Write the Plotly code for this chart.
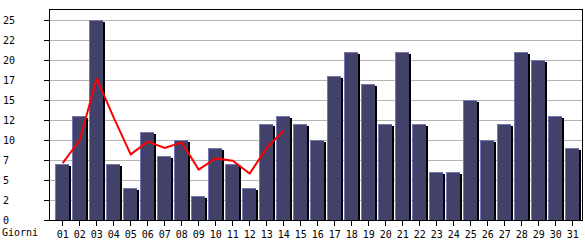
import plotly.graph_objects as go

days = list(range(1, 32))
day_labels = [f"{d:02d}" for d in days]
visits = [7, 13, 25, 7, 4, 11, 8, 10, 3, 9, 7, 4, 12, 13, 12, 10, 18, 21, 17, 12,
          21, 12, 6, 6, 15, 10, 12, 21, 20, 13, 9]
avg_days = list(range(1, 15))
avg_values = [7.1, 10.0, 17.7, 12.8, 8.2, 9.8, 9.0, 9.7, 6.3, 7.7, 7.4, 5.8, 9.0, 11.2]
y_tickvals = [0, 2.5, 5, 7.5, 10, 12.5, 15, 17.5, 20, 22.5, 25]
y_ticktext = ["0", "2", "5", "7", "10", "12", "15", "17", "20", "22", "25"]

FONT = "DejaVu Sans Mono"
U = 17.0  # px per category

fig = go.Figure()
# shadow
fig.add_trace(go.Bar(x=days, y=[v - 0.25 for v in visits], width=14 / U, offset=-6 / U,
                     marker=dict(color="#000000", line=dict(width=0)), hoverinfo="skip"))
# highlight
fig.add_trace(go.Bar(x=days, y=visits, width=14 / U, offset=-8 / U,
                     marker=dict(color="#7676b4", line=dict(width=0))))
# fill
fig.add_trace(go.Bar(x=days, y=[v - 0.125 for v in visits], width=13 / U, offset=-7 / U,
                     marker=dict(color="#41416a", line=dict(width=0)), hoverinfo="skip"))
# average line
fig.add_trace(go.Scatter(x=avg_days, y=avg_values, mode="lines",
                         line=dict(color="#ff0000", width=2)))

# left-align y tick labels by padding them to equal width in a monospace font
y_ticktext_padded = [t.ljust(2, "\u00a0") for t in y_ticktext]

fig.update_layout(
    width=585, height=240,
    margin=dict(l=50, r=3, t=10, b=20),
    barmode="overlay", bargap=0,
    showlegend=False,
    plot_bgcolor="white", paper_bgcolor="white",
    font=dict(family=FONT, size=10, color="black"),
    xaxis=dict(range=[1 - 12.7 / U, 31 + 9.3 / U], tickvals=days, ticktext=day_labels,
               showgrid=False, showline=True, linecolor="black", linewidth=1, mirror=True,
               ticks="outside", ticklen=5, tickcolor="black", zeroline=False,
               automargin=False),
    yaxis=dict(range=[0, 26.25], tickvals=y_tickvals, ticktext=y_ticktext_padded,
               showgrid=True, gridcolor="#b4b4b4", gridwidth=1,
               showline=True, linecolor="black", linewidth=1, mirror=True,
               ticks="outside", ticklen=5, tickcolor="black", zeroline=False,
               ticklabelstandoff=27, automargin=False),
    annotations=[dict(text="Giorni", xref="paper", yref="paper", x=-50 / 532, y=-12 / 210,
                      xanchor="left", yanchor="middle", showarrow=False,
                      font=dict(family=FONT, size=10, color="black"))],
)

fig.write_html("out.html")
